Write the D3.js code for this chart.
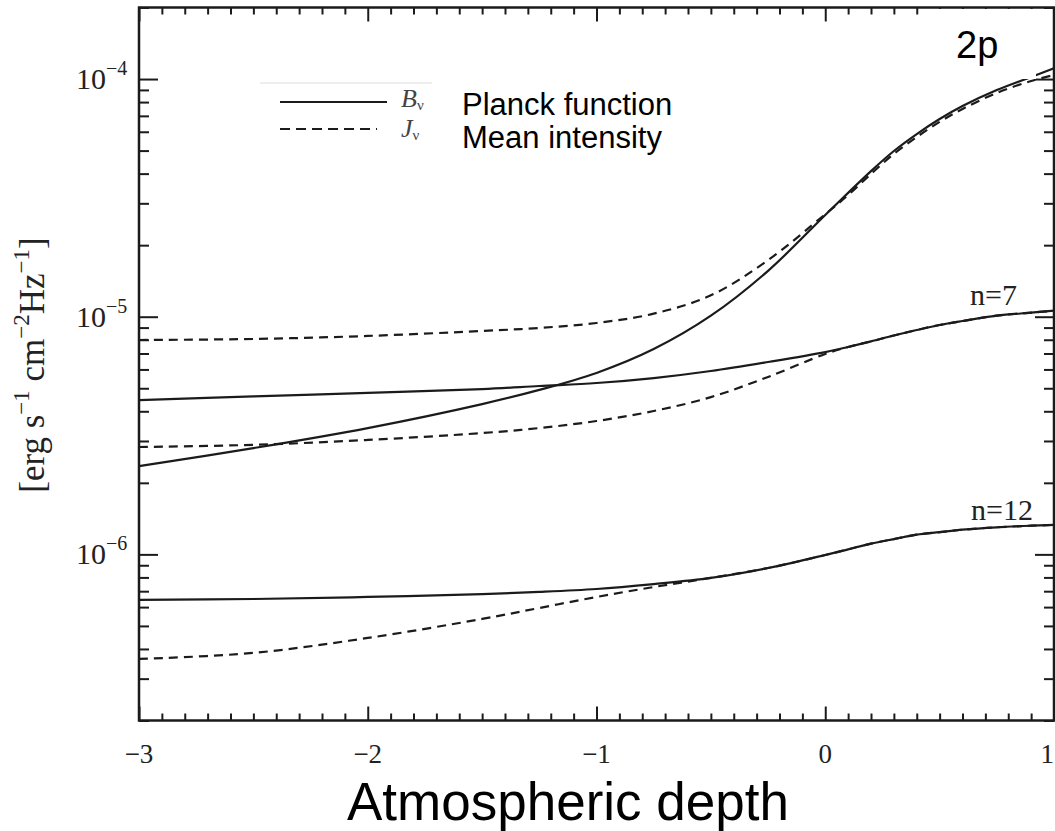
<!DOCTYPE html>
<html>
<head>
<meta charset="utf-8">
<script src="https://cdn.jsdelivr.net/npm/d3@7/dist/d3.min.js"></script>
<style>
  html, body { margin: 0; padding: 0; background: #fff; }
  svg { display: block; }
  .serif { font-family: "Liberation Serif", "DejaVu Serif", serif; }
  .sans { font-family: "Liberation Sans", Arial, sans-serif; }
</style>
</head>
<body>
<svg id="chart" width="1055" height="831"></svg>
<script>
// Atmospheric depth grid (log optical depth) shared by all curves
const depth = [-3, -2.5, -2, -1.5, -1.25, -1, -0.75, -0.5, -0.25, 0, 0.1, 0.2, 0.3, 0.4, 0.5, 0.6, 0.75, 0.9, 1.0];

// 2p level: Planck function B_nu and mean intensity J_nu
const b2p = [2.35e-6, 2.80e-6, 3.40e-6, 4.29e-6, 4.92e-6, 5.80e-6, 7.31e-6, 1.01e-5, 1.56e-5, 2.68e-5, 3.32e-5, 4.10e-5, 4.98e-5, 5.87e-5, 6.79e-5, 7.70e-5, 8.99e-5, 1.02e-4, 1.11e-4];
const j2p = [7.98e-6, 8.06e-6, 8.30e-6, 8.71e-6, 8.97e-6, 9.41e-6, 1.03e-5, 1.23e-5, 1.73e-5, 2.70e-5, 3.25e-5, 3.99e-5, 4.84e-5, 5.70e-5, 6.60e-5, 7.48e-5, 8.74e-5, 9.81e-5, 1.04e-4];

// n=7 level
const b7 = [4.46e-6, 4.62e-6, 4.78e-6, 4.96e-6, 5.11e-6, 5.26e-6, 5.52e-6, 5.91e-6, 6.45e-6, 7.10e-6, 7.46e-6, 7.87e-6, 8.34e-6, 8.79e-6, 9.23e-6, 9.59e-6, 1.01e-5, 1.04e-5, 1.06e-5];
const j7 = [2.83e-6, 2.89e-6, 3.03e-6, 3.24e-6, 3.40e-6, 3.64e-6, 4.01e-6, 4.59e-6, 5.58e-6, 6.97e-6, 7.46e-6, 7.87e-6, 8.34e-6, 8.79e-6, 9.23e-6, 9.59e-6, 1.01e-5, 1.04e-5, 1.06e-5];

// n=12 level
const b12 = [6.43e-7, 6.49e-7, 6.62e-7, 6.81e-7, 6.95e-7, 7.15e-7, 7.50e-7, 7.96e-7, 8.76e-7, 9.94e-7, 1.05e-6, 1.11e-6, 1.16e-6, 1.21e-6, 1.24e-6, 1.27e-6, 1.30e-6, 1.32e-6, 1.33e-6];
const j12 = [3.63e-7, 3.85e-7, 4.45e-7, 5.35e-7, 5.95e-7, 6.62e-7, 7.29e-7, 7.96e-7, 8.76e-7, 9.94e-7, 1.05e-6, 1.11e-6, 1.16e-6, 1.21e-6, 1.24e-6, 1.27e-6, 1.30e-6, 1.32e-6, 1.33e-6];

// Axis ticks and labels
const xMajor = [-3, -2, -1, 0, 1];
const xMajorLabels = ["\u22123", "\u22122", "\u22121", "0", "1"];
const yDecades = [1e-6, 1e-5, 1e-4];
const yDecadeExponents = ["\u22126", "\u22125", "\u22124"];

const series = [
  { values: b2p, dashed: false },
  { values: j2p, dashed: true },
  { values: b7, dashed: false },
  { values: j7, dashed: true },
  { values: b12, dashed: false },
  { values: j12, dashed: true }
];

const svg = d3.select("#chart");
const plotLeft = 139, plotRight = 1054, plotTop = 7.5, plotBottom = 720.5;

const x = d3.scaleLinear().domain([-3, 1]).range([plotLeft, plotRight]);
const y = d3.scaleLog().domain([2e-7, 2e-4]).range([plotBottom, plotTop]);

const ink = "#1b1b1b";

// ---- curves ----
const line = d3.line()
  .x(d => x(d[0]))
  .y(d => y(d[1]))
  .curve(d3.curveCatmullRom.alpha(0.5));

svg.append("g")
  .selectAll("path")
  .data(series)
  .join("path")
  .attr("d", s => line(depth.map((t, i) => [t, s.values[i]])))
  .attr("fill", "none")
  .attr("stroke", ink)
  .attr("stroke-width", 2.2)
  .attr("stroke-dasharray", s => s.dashed ? "9,6" : null);

// ---- axes (all ticks point inward) ----
const xMinor = d3.range(-30, 11).map(v => v / 10).filter(v => !xMajor.some(m => Math.abs(m - v) < 1e-9));
const yMinor = [];
[1e-7, 1e-6, 1e-5, 1e-4].forEach(dec => {
  for (let k = 2; k <= 9; k++) {
    const v = k * dec;
    if (v >= 2e-7 - 1e-12 && v <= 2e-4 + 1e-12) yMinor.push(v);
  }
});

function styleAxis(g) {
  g.selectAll(".domain").remove();
  g.selectAll(".tick line").attr("stroke", ink).attr("stroke-width", 2);
  g.selectAll(".tick text").remove();
}

// bottom
svg.append("g").attr("transform", `translate(0,${plotBottom})`)
  .call(d3.axisTop(x).tickValues(xMajor).tickSize(14)).call(styleAxis);
svg.append("g").attr("transform", `translate(0,${plotBottom})`)
  .call(d3.axisTop(x).tickValues(xMinor).tickSize(7)).call(styleAxis);
// top
svg.append("g").attr("transform", `translate(0,${plotTop})`)
  .call(d3.axisBottom(x).tickValues(xMajor).tickSize(14)).call(styleAxis);
svg.append("g").attr("transform", `translate(0,${plotTop})`)
  .call(d3.axisBottom(x).tickValues(xMinor).tickSize(7)).call(styleAxis);
// left
svg.append("g").attr("transform", `translate(${plotLeft},0)`)
  .call(d3.axisRight(y).tickValues(yDecades).tickSize(19)).call(styleAxis);
svg.append("g").attr("transform", `translate(${plotLeft},0)`)
  .call(d3.axisRight(y).tickValues(yMinor).tickSize(10)).call(styleAxis);
// right
svg.append("g").attr("transform", `translate(${plotRight},0)`)
  .call(d3.axisLeft(y).tickValues(yDecades).tickSize(19)).call(styleAxis);
svg.append("g").attr("transform", `translate(${plotRight},0)`)
  .call(d3.axisLeft(y).tickValues(yMinor).tickSize(10)).call(styleAxis);

// frame
svg.append("rect")
  .attr("x", plotLeft).attr("y", plotTop)
  .attr("width", plotRight - plotLeft).attr("height", plotBottom - plotTop)
  .attr("fill", "none").attr("stroke", ink).attr("stroke-width", 2.5);

// x tick labels (the last one is kept inside the page edge)
svg.append("g").selectAll("text")
  .data(xMajor)
  .join("text")
  .attr("class", "serif")
  .attr("x", d => x(d))
  .attr("y", 763)
  .attr("text-anchor", (d, i) => i === xMajor.length - 1 ? "end" : "middle")
  .attr("font-size", 27)
  .attr("fill", "#222")
  .text((d, i) => xMajorLabels[i]);

// y tick labels: 10 with superscript exponent
const yl = svg.append("g").selectAll("text")
  .data(yDecades)
  .join("text")
  .attr("class", "serif")
  .attr("x", 76)
  .attr("y", d => y(d) + 10)
  .attr("fill", "#222");
yl.append("tspan").attr("font-size", 30).text("10");
yl.append("tspan").attr("font-size", 20).attr("dy", -14).text((d, i) => yDecadeExponents[i]);

// y axis title
const yt = svg.append("text")
  .attr("class", "serif")
  .attr("transform", "translate(44,365) rotate(-90)")
  .attr("text-anchor", "middle")
  .attr("font-size", 35)
  .attr("fill", "#222");
yt.append("tspan").text("[erg s");
yt.append("tspan").attr("font-size", 23).attr("dy", -15).text("\u22121");
yt.append("tspan").attr("dy", 15).text(" cm");
yt.append("tspan").attr("font-size", 23).attr("dy", -15).text("\u22122");
yt.append("tspan").attr("dy", 15).text("Hz");
yt.append("tspan").attr("font-size", 23).attr("dy", -15).text("\u22121");
yt.append("tspan").attr("dy", 15).text("]");

// x axis title
svg.append("text")
  .attr("class", "sans")
  .attr("x", 347).attr("y", 820)
  .attr("font-size", 53)
  .attr("fill", "#000")
  .text("Atmospheric depth");

// curve labels
svg.append("text").attr("class", "serif")
  .attr("x", 1017).attr("y", 305).attr("text-anchor", "end")
  .attr("font-size", 30).attr("fill", "#222").text("n=7");
svg.append("text").attr("class", "serif")
  .attr("x", 1033).attr("y", 520).attr("text-anchor", "end")
  .attr("font-size", 30).attr("fill", "#222").text("n=12");

// panel label box
svg.append("rect")
  .attr("x", 937).attr("y", 9).attr("width", 99).attr("height", 70)
  .attr("fill", "#fff");
svg.append("text").attr("class", "sans")
  .attr("x", 956).attr("y", 58)
  .attr("font-size", 38).attr("fill", "#000").text("2p");

// legend
const legend = svg.append("g");
legend.append("line").attr("x1", 260).attr("x2", 432).attr("y1", 83).attr("y2", 83)
  .attr("stroke", "#ddd").attr("stroke-width", 1);
legend.append("line").attr("x1", 280).attr("x2", 387).attr("y1", 102).attr("y2", 102)
  .attr("stroke", ink).attr("stroke-width", 2);
legend.append("line").attr("x1", 280).attr("x2", 377).attr("y1", 129).attr("y2", 129)
  .attr("stroke", ink).attr("stroke-width", 2).attr("stroke-dasharray", "10,6");

const bl = legend.append("text").attr("class", "serif").attr("x", 401).attr("y", 107)
  .attr("font-size", 26).attr("fill", "#444");
bl.append("tspan").attr("font-style", "italic").text("B");
bl.append("tspan").attr("font-size", 15).attr("dy", 3).text("\u03bd");
const jl = legend.append("text").attr("class", "serif").attr("x", 401).attr("y", 137)
  .attr("font-size", 26).attr("fill", "#444");
jl.append("tspan").attr("font-style", "italic").text("J");
jl.append("tspan").attr("font-size", 15).attr("dy", 3).text("\u03bd");

legend.append("text").attr("class", "sans").attr("x", 462).attr("y", 115)
  .attr("font-size", 31).attr("fill", "#000").text("Planck function");
legend.append("text").attr("class", "sans").attr("x", 462).attr("y", 148)
  .attr("font-size", 31).attr("fill", "#000").text("Mean intensity");
</script>
</body>
</html>
